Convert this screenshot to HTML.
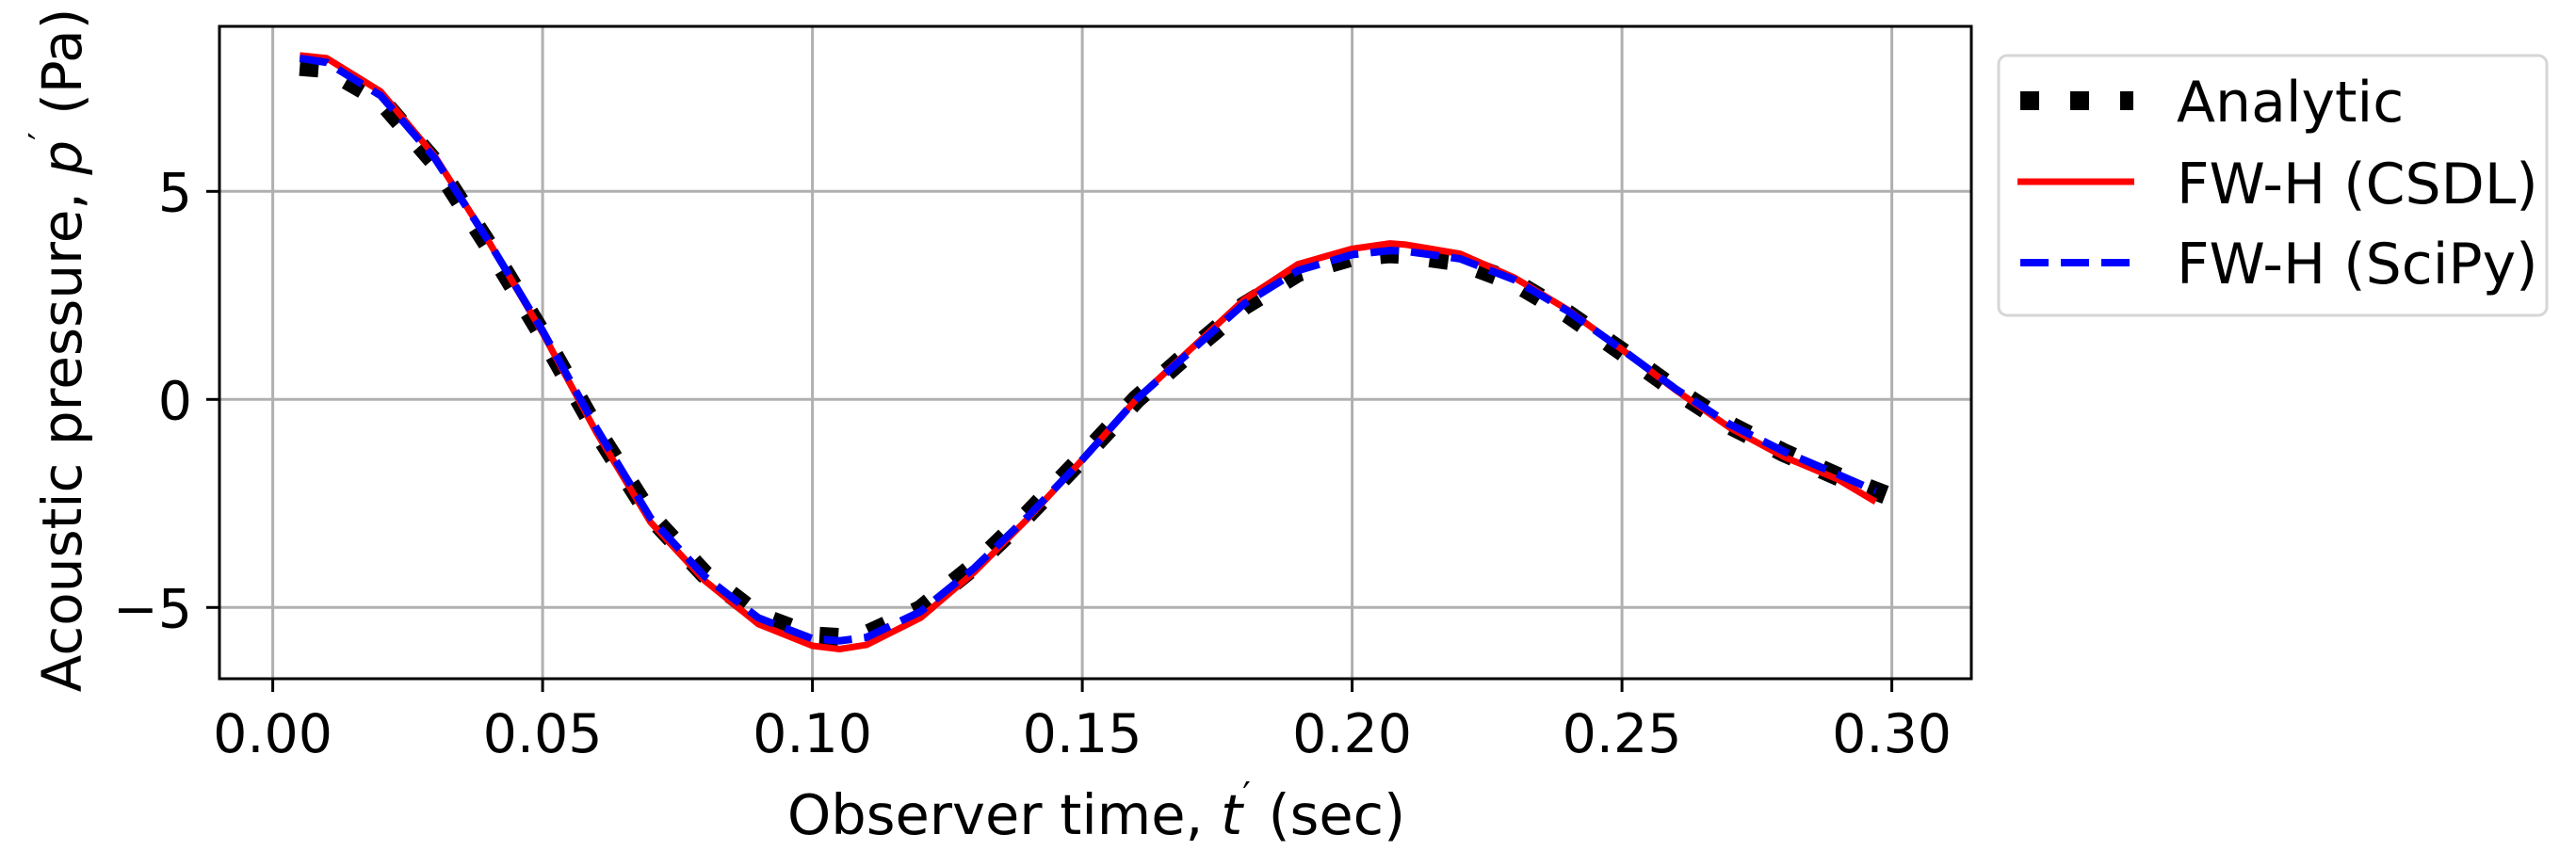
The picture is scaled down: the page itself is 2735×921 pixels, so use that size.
<!DOCTYPE html>
<html><head><meta charset="utf-8"><style>
html,body{margin:0;padding:0;background:#fff;}
svg{display:block;font-family:"DejaVu Sans","Liberation Sans",sans-serif;}
</style></head><body>
<svg id="chart" width="2735" height="921" viewBox="0 0 2735 921" xmlns="http://www.w3.org/2000/svg">
<rect x="0" y="0" width="2735" height="921" fill="#fff"/>
<g id="grid"></g>
<g id="series"></g>
<rect x="233" y="28" width="1860" height="693" fill="none" stroke="#000" stroke-width="3"/>
<g id="ticks"></g>
<text x="1164" y="886" font-size="59" text-anchor="middle">Observer time, <tspan font-style="italic">t</tspan><tspan font-size="38" dy="-28">′</tspan><tspan dy="28"> (sec)</tspan></text>
<text transform="translate(86,372) rotate(-90)" font-size="58" text-anchor="middle">Acoustic pressure, <tspan font-style="italic">p</tspan><tspan font-size="38" dy="-28">′</tspan><tspan dy="28"> (Pa)</tspan></text>
<g>
<rect x="2122" y="59" width="582" height="276" rx="9" fill="#fff" fill-opacity="0.8" stroke="#d6d6d6" stroke-width="3"/>
<line x1="2145" y1="107" x2="2265" y2="107" stroke="#000" stroke-width="20" stroke-dasharray="20 33"/>
<text x="2311" y="129" font-size="60">Analytic</text>
<line x1="2142" y1="193" x2="2266" y2="193" stroke="#ff0000" stroke-width="7"/>
<text x="2311" y="216" font-size="60">FW-H (CSDL)</text>
<line x1="2145" y1="279" x2="2265" y2="279" stroke="#0000ff" stroke-width="8" stroke-dasharray="30 13"/>
<text x="2311" y="301" font-size="60">FW-H (SciPy)</text>
</g>
</svg>
<script>
const tValues = [0.005,0.01,0.02,0.03,0.04,0.05,0.06,0.07,0.08,0.09,0.10,0.105,0.11,0.12,0.13,0.14,0.15,0.16,0.17,0.18,0.19,0.20,0.207,0.21,0.22,0.23,0.24,0.25,0.26,0.27,0.28,0.29,0.297];
const csdlValues = [8.27,8.2,7.4,5.85,3.8,1.6,-0.8,-2.95,-4.35,-5.4,-5.92,-6.0,-5.9,-5.25,-4.15,-2.85,-1.45,0.0,1.2,2.4,3.25,3.62,3.75,3.72,3.5,2.93,2.15,1.2,0.22,-0.68,-1.38,-1.92,-2.46];
const scipyValues = [8.2,8.1,7.3,5.8,3.8,1.65,-0.7,-2.85,-4.25,-5.25,-5.75,-5.8,-5.72,-5.1,-4.05,-2.8,-1.45,0.0,1.15,2.3,3.1,3.48,3.58,3.56,3.38,2.88,2.12,1.2,0.25,-0.6,-1.25,-1.8,-2.2];
const analyticT = [0.005,0.01,0.02,0.03,0.04,0.05,0.06,0.07,0.08,0.09,0.10,0.105,0.11,0.12,0.13,0.14,0.15,0.16,0.17,0.18,0.19,0.20,0.207,0.21,0.22,0.23,0.24,0.25,0.26,0.27,0.28,0.29,0.30];
const analyticValues = [8.0,7.95,7.2,5.7,3.7,1.55,-0.75,-2.8,-4.2,-5.2,-5.68,-5.72,-5.65,-5.05,-4.0,-2.75,-1.4,0.0,1.15,2.25,3.05,3.42,3.5,3.48,3.3,2.82,2.05,1.15,0.22,-0.62,-1.28,-1.85,-2.35];
const xTicks = [0.00,0.05,0.10,0.15,0.20,0.25,0.30];
const xTickLabels = ["0.00","0.05","0.10","0.15","0.20","0.25","0.30"];
const yTicks = [-5,0,5];
const yTickLabels = ["\u22125","0","5"];

const NS = "http://www.w3.org/2000/svg";
const X0 = 289.6, XS = 5730, Y0 = 424.3, YS = 44.2;
function xScale(t){ return X0 + t*XS; }
function yScale(p){ return Y0 - p*YS; }
function mk(tag, attrs, parent){
  const e = document.createElementNS(NS, tag);
  for (const k in attrs) e.setAttribute(k, attrs[k]);
  parent.appendChild(e);
  return e;
}
const grid = document.getElementById('grid');
const ticks = document.getElementById('ticks');
xTicks.forEach((t,i)=>{
  const x = xScale(t);
  const g = mk('line',{x1:x,y1:28,x2:x,y2:721,stroke:'#b0b0b0','stroke-width':3},grid);
  
  
  const tk = mk('line',{x1:x,y1:721,x2:x,y2:735,stroke:'#000','stroke-width':3},ticks);
  
  
  const lb = mk('text',{x:x,y:799,'font-size':57,'text-anchor':'middle'},ticks);
  lb.textContent = xTickLabels[i];
  
  
});
yTicks.forEach((p,i)=>{
  const y = yScale(p);
  const g = mk('line',{x1:233,y1:y,x2:2093,y2:y,stroke:'#b0b0b0','stroke-width':3},grid);
  
  
  const tk = mk('line',{x1:219,y1:y,x2:233,y2:y,stroke:'#000','stroke-width':3},ticks);
  
  
  const lb = mk('text',{x:204,y:y+21,'font-size':57,'text-anchor':'end'},ticks);
  lb.textContent = yTickLabels[i];
  
  
});
function pathD(ts, vs){
  return ts.map((t,i)=>(i?'L':'M')+xScale(t).toFixed(1)+' '+yScale(vs[i]).toFixed(1)).join(' ');
}
const series = document.getElementById('series');
const a = mk('path',{d:pathD(analyticT,analyticValues),fill:'none',stroke:'#000','stroke-width':20,'stroke-dasharray':'20 33'},series);


const c = mk('path',{d:pathD(tValues,csdlValues),fill:'none',stroke:'#ff0000','stroke-width':7,'stroke-linejoin':'round'},series);


const s = mk('path',{d:pathD(tValues,scipyValues),fill:'none',stroke:'#0000ff','stroke-width':8,'stroke-dasharray':'30 13'},series);


</script>
</body></html>
